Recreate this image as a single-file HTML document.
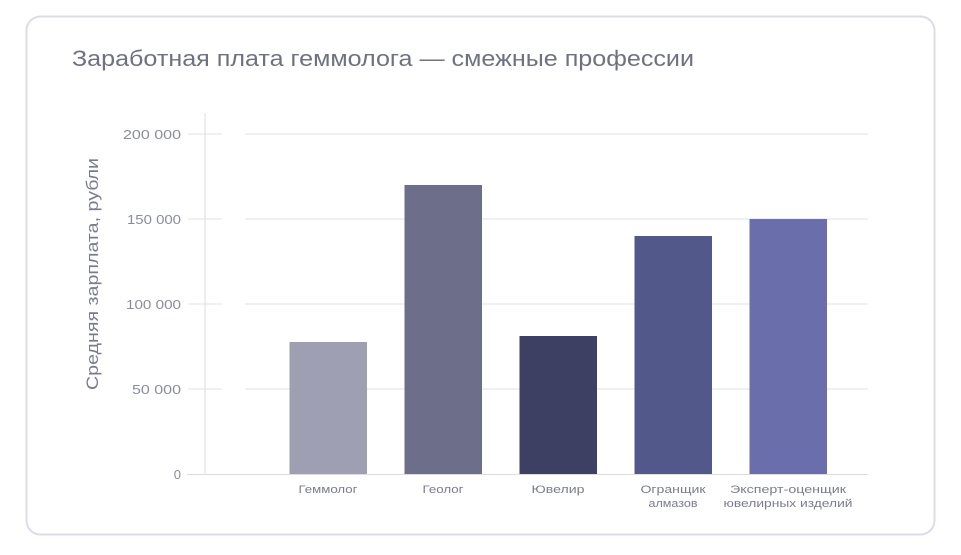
<!DOCTYPE html>
<html><head><meta charset="utf-8"><style>
body{margin:0;background:#fff;width:961px;height:550px;overflow:hidden;font-family:"Liberation Sans","DejaVu Sans",sans-serif}
</style></head><body>
<svg width="961" height="550" xmlns="http://www.w3.org/2000/svg" font-family="Liberation Sans, DejaVu Sans, sans-serif">
<rect x="26.5" y="16.5" width="908" height="518" rx="14" fill="#fff" stroke="#dcdbea" stroke-width="2"/>
<text x="72" y="66" font-size="22" fill="#6f7183" textLength="622" lengthAdjust="spacingAndGlyphs">Заработная плата геммолога — смежные профессии</text>
<g stroke="#e6e6ee" stroke-width="1.3">
<line x1="188" y1="134" x2="222" y2="134"/><line x1="245" y1="134" x2="868" y2="134"/>
<line x1="188" y1="219" x2="222" y2="219"/><line x1="245" y1="219" x2="868" y2="219"/>
<line x1="188" y1="304" x2="222" y2="304"/><line x1="245" y1="304" x2="868" y2="304"/>
<line x1="188" y1="389" x2="222" y2="389"/><line x1="245" y1="389" x2="868" y2="389"/>
</g>
<line x1="205" y1="113" x2="205" y2="474" stroke="#dcdce6" stroke-width="1"/>
<line x1="187" y1="474.5" x2="868" y2="474.5" stroke="#dcdce6" stroke-width="1"/>
<g font-size="13" fill="#8a8c9c" text-anchor="end">
<text x="181" y="139" textLength="58" lengthAdjust="spacingAndGlyphs">200 000</text>
<text x="181" y="224" textLength="54" lengthAdjust="spacingAndGlyphs">150 000</text>
<text x="181" y="309" textLength="55" lengthAdjust="spacingAndGlyphs">100 000</text>
<text x="181" y="394" textLength="49" lengthAdjust="spacingAndGlyphs">50 000</text>
<text x="181" y="479">0</text>
</g>
<text transform="translate(98,274) rotate(-90)" font-size="17" fill="#7a7c8e" text-anchor="middle" textLength="232" lengthAdjust="spacingAndGlyphs">Средняя зарплата, рубли</text>
<rect x="289.5" y="342" width="77.5" height="132" fill="#9f9fb3"/>
<rect x="404.5" y="185" width="77.5" height="289" fill="#6d6e8a"/>
<rect x="519.5" y="336" width="77.5" height="138" fill="#3d4063"/>
<rect x="634.5" y="236" width="77.5" height="238" fill="#525889"/>
<rect x="749.5" y="219" width="77.5" height="255" fill="#6a6fab"/>
<g font-size="11" fill="#7a7c8e" text-anchor="middle" lengthAdjust="spacingAndGlyphs">
<text x="328" y="493" textLength="59" lengthAdjust="spacingAndGlyphs">Геммолог</text>
<text x="443" y="493" textLength="41" lengthAdjust="spacingAndGlyphs">Геолог</text>
<text x="558" y="493" textLength="53" lengthAdjust="spacingAndGlyphs">Ювелир</text>
<text x="673" y="493" textLength="65" lengthAdjust="spacingAndGlyphs">Огранщик</text>
<text x="673" y="507" textLength="49" lengthAdjust="spacingAndGlyphs">алмазов</text>
<text x="788" y="493" textLength="116" lengthAdjust="spacingAndGlyphs">Эксперт-оценщик</text>
<text x="788" y="507" textLength="129" lengthAdjust="spacingAndGlyphs">ювелирных изделий</text>
</g>
</svg>
</body></html>
